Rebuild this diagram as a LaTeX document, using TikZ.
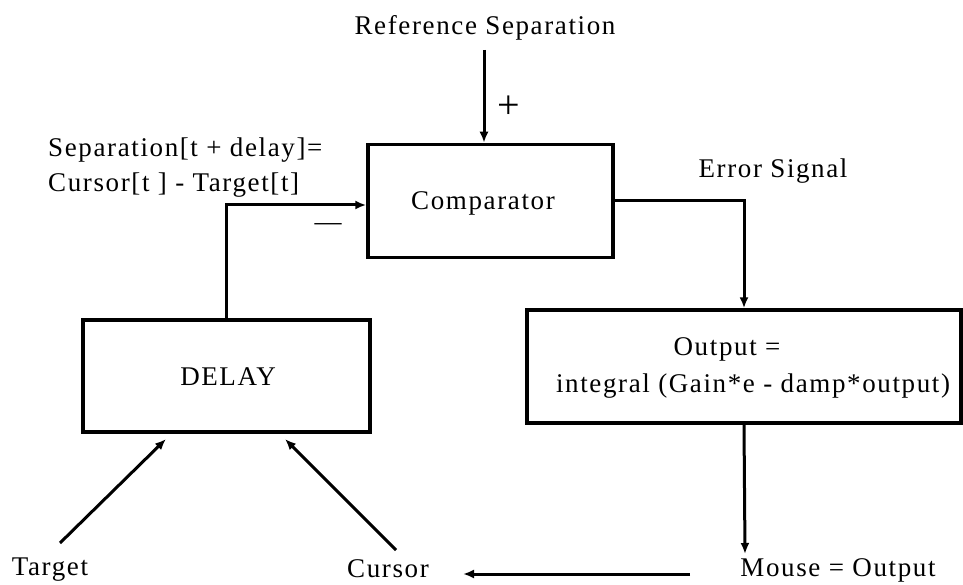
\documentclass[tikz,border=0pt]{standalone}
\usepackage{fontspec}
\setmainfont{Liberation Serif}[LetterSpace=6]
\usetikzlibrary{arrows.meta}
\begin{document}
\begin{tikzpicture}[x=1pt,y=-1pt,
  blockbox/.style={draw,line width=3.5pt,inner sep=0pt},
  lbl/.style={font=\fontsize{27}{35}\selectfont,inner sep=0pt},
  wire/.style={line width=3pt},
  arr/.style={wire,-{Latex[length=11pt,width=9pt]}}]
\useasboundingbox (0,0) rectangle (963,585);
% blocks
\node[blockbox,minimum width=245pt,minimum height=113pt] (comp) at (490.5,201) {};
\node[blockbox,minimum width=287pt,minimum height=112pt] (delay) at (226.5,376) {};
\node[blockbox,minimum width=434pt,minimum height=113pt] (out) at (744,366.5) {};
% block texts
\node[lbl,anchor=base] (comptxt) at (483,210) {Comparator};
\node[lbl,anchor=base] (delaytxt) at (228,385) {DELAY};
\node[lbl,anchor=base] (outtxt1) at (727,355) {Output =};
\node[lbl,anchor=base] (outtxt2) at (753,392) {integral (Gain*e - damp*output)};
% labels
\node[lbl,anchor=base] (ref) at (485,35) {Reference Separation};
\node[lbl,anchor=base west] (sep1) at (48,157) {Separation[t + delay]=};
\node[lbl,anchor=base west] (sep2) at (48,192) {Cursor[t ] - Target[t]};
\node[lbl,anchor=base] (err) at (773,178) {Error Signal};
\node[lbl,anchor=base] (mouse) at (838,576) {Mouse = Output};
\node[lbl,anchor=base] (cursor) at (388,577) {Cursor};
\node[lbl,anchor=base] (target) at (50,575) {Target};
\node[lbl,font=\fontsize{40}{44}\selectfont] (plus) at (509,107) {+};
\node[lbl] (minus) at (328,227) {\textemdash};
% connectors
\coordinate (refend) at (484,50);
\draw[arr] (refend) -- (refend |- comp.north);
\draw[arr] (delay.north) |- (comp.west |- 0,205);
\draw[arr] (comp.east |- 0,201) -| (out.north);
\coordinate (mo) at (745,554);
\draw[arr] (out.south) -- (mo);
\coordinate (mw) at (690,574);
\coordinate (cw) at (463,574);
\draw[arr] (mw) -- (cw);
\coordinate (ts) at (60,543);
\coordinate (cs) at (396,550);
\draw[arr] (ts) -- (166,439);
\draw[arr] (cs) -- (285,439);
\end{tikzpicture}
\end{document}
